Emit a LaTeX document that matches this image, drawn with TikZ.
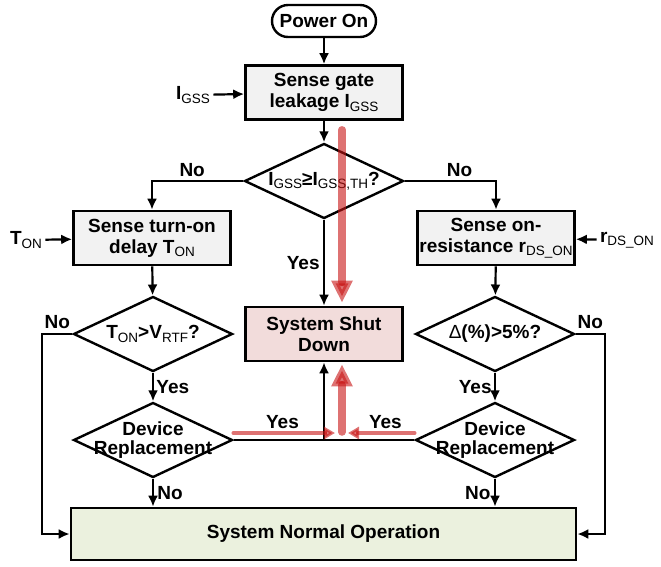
\documentclass[tikz,border=0pt]{standalone}
\usepackage{fontspec}
\setmainfont{Liberation Sans}
\usepackage{tikz}
\usetikzlibrary{arrows.meta, shapes.geometric, positioning}

\definecolor{boxgray}{RGB}{242,242,242}
\definecolor{boxpink}{RGB}{242,220,219}
\definecolor{boxgreen}{RGB}{235,241,222}
\definecolor{hlred}{RGB}{200,20,20}

\newcommand{\lo}[1]{\raisebox{-0.35ex}{\fontsize{13.5}{13.5}\selectfont\mdseries #1}}
\newcommand{\dtxt}[1]{\makebox[0pt]{#1}}

\tikzset{
  every node/.style={font=\fontsize{19}{21}\selectfont\bfseries},
  box/.style={draw, line width=2.6pt, minimum width=157pt, minimum height=54pt, inner sep=0pt, align=center},
  dec/.style={draw, diamond, line width=2.4pt, minimum width=159pt, minimum height=75pt, inner sep=0pt, align=center,
    font=\fontsize{19}{18.5}\selectfont\bfseries},
  flow/.style={line width=2.2pt, -{Latex[length=11pt,width=10pt]}},
  hlbig/.style={draw=hlred, opacity=0.6, line width=7.5pt, line cap=round, -{Triangle[length=22pt,width=20pt]}},
  hlsmall/.style={draw=hlred, opacity=0.6, line width=4.5pt, line cap=round, -{Triangle[length=11pt,width=12pt]}}
}

\begin{document}
\begin{tikzpicture}[x=1pt, y=-1pt]
\useasboundingbox (0,0) rectangle (661,566);

% Blocks
\node[draw, line width=2.4pt, rounded corners=16pt, minimum width=104pt, minimum height=32pt] (power) at (324,21) {Power On};
\node[box, fill=boxgray] (sg) at (324,92.5) {Sense gate\\leakage I\lo{GSS}};
\node[dec] (d1) at (324,181) {\dtxt{I\lo{GSS}≥I\lo{GSS,TH}?}};
\node[box, fill=boxgray] (tl) at (152,238) {Sense turn-on\\delay T\lo{ON}};
\node[box, fill=boxgray] (tr) at (496,238) {Sense on-\\resistance r\lo{DS\_ON}};
\node[box, fill=boxpink] (shut) at (324,334) {System Shut\\Down};
\node[dec] (d2l) at (153,334) {\dtxt{T\lo{ON}>V\lo{RTF}?}};
\node[dec] (d2r) at (495,334) {\dtxt{{\mdseries Δ}(\%)>5\%?}};
\node[dec] (drl) at (153,440) {\dtxt{Device}\\\dtxt{Replacement}};
\node[dec] (drr) at (495,440) {\dtxt{Device}\\\dtxt{Replacement}};
\node[box, fill=boxgreen, minimum width=505pt, minimum height=52pt] (normal) at (323.5,534) {System Normal Operation};

% Inputs
\node (igss) at (193,95) {I\lo{GSS}};
\node (ton) at (26,240) {T\lo{ON}};
\node (rds) at (627,240) {r\lo{DS\_ON}};

% Connectors
\draw[flow] (power) -- (sg);
\draw[flow] (igss) -- (sg);
\draw[flow] (ton) -- (tl);
\draw[flow] (rds) -- (tr);
\draw[flow] (sg) -- (d1);
\draw[flow] (d1.west) -| (tl.north) node[pos=0.28, above] {No};
\draw[flow] (d1.east) -| (tr.north) node[pos=0.3, above] {No};
\draw[flow] (d1.south) -- (shut.north) node[midway, left] {Yes};
\draw[flow] (tl) -- (d2l);
\draw[flow] (tr) -- (d2r);
\draw[flow] (d2l.south) -- (drl.north) node[midway, right=-1pt] {Yes};
\draw[flow] (d2r.south) -- (drr.north) node[midway, left=-1pt] {Yes};
\draw[flow] (d2l.west) -- ++(-30,0) node[midway, above=1pt] {No} |- (normal.west);
\draw[flow] (d2r.east) -- ++(29,0) node[midway, above=1pt] {No} |- (normal.east);
\draw[flow] (drl.south) -- (normal.north -| drl.south) node[midway, right] {No};
\draw[flow] (drr.south) -- (normal.north -| drr.south) node[midway, left] {No};
\draw[line width=2.2pt] (drl.east) -- (drr.west)
  node[pos=0.27, above=7pt] {Yes} node[pos=0.84, above=7pt] {Yes};
\coordinate (mid) at (shut.south |- drl.east);
\draw[flow] (mid) -- (shut.south);

% Highlighted path
\draw[hlbig] ([xshift=18pt,yshift=-9pt]sg.south) -- ([xshift=18pt,yshift=3pt]shut.north);
\draw[hlbig] ([xshift=18pt,yshift=8pt]mid) -- ([xshift=18pt,yshift=-2pt]shut.south);
\draw[hlsmall] ([yshift=7pt]drl.east) -- ([xshift=11pt,yshift=7pt]mid);
\draw[hlsmall] ([yshift=7pt]drr.west) -- ([xshift=24pt,yshift=7pt]mid);
\end{tikzpicture}
\end{document}
